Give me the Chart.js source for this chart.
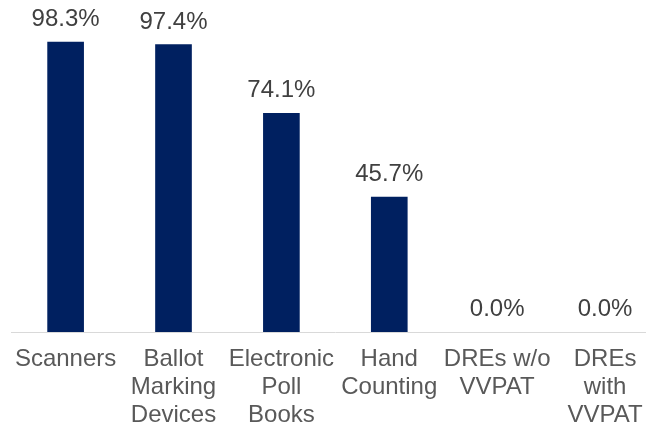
<!DOCTYPE html>
<html>
<head>
<meta charset="utf-8">
<script src="https://cdn.jsdelivr.net/npm/chart.js@4/dist/chart.umd.min.js"></script>
<style>
	html, body { margin: 0; padding: 0; background: #fff; overflow: hidden; }
	#wrap { position: relative; width: 670px; height: 428px; }
</style>
</head>
<body>
<div id="wrap"><canvas id="chart"></canvas></div>
<script>
'use strict'
// данные
const categories = [
	["Scanners"],
	["Ballot", "Marking", "Devices"],
	["Electronic", "Poll", "Books"],
	["Hand", "Counting"],
	["DREs w/o", "VVPAT"],
	["DREs", "with", "VVPAT"]
];
const shares = [98.3, 97.4, 74.1, 45.7, 0.0, 0.0];
const yTicks = [0, 100];

const barColor = "#002060";
const fontFamily = "'Liberation Sans', Arial, sans-serif";

// подписи над столбцами
const valueLabels = {
	id: "valueLabels",
	afterDatasetsDraw(chart) {
		let ctx = chart.ctx;
		let meta = chart.getDatasetMeta(0);
		ctx.save();
		ctx.font = `24px ${fontFamily}`;
		ctx.fillStyle = "#404040";
		ctx.textAlign = "center";
		ctx.textBaseline = "alphabetic";
		meta.data.forEach((bar, i) => {
			ctx.fillText(shares[i].toFixed(1) + "%", bar.x, bar.y - 16);
		});
		ctx.restore();
	}
};

let ctx = document.getElementById("chart").getContext("2d");
let chart = new Chart(ctx, {
	type: "bar",
	data: {
		labels: categories,
		datasets: [{
			data: shares,
			// нулевые столбцы не рисуем, иначе остается тонкая полоска
			backgroundColor: c => shares[c.dataIndex] > 0 ? barColor : "rgba(0,0,0,0)",
			borderWidth: 0,
			barThickness: 36
		}]
	},
	options: {
		responsive: true,
		maintainAspectRatio: false,
		animation: false,
		layout: { padding: { top: 37, left: 11, right: 11, bottom: 0 } },
		plugins: {
			legend: { display: false },
			tooltip: { enabled: false }
		},
		scales: {
			x: {
				grid: { display: false, drawTicks: false },
				border: { display: true, color: "#d9d9d9", width: 1 },
				ticks: {
					color: "#595959",
					padding: 14,
					maxRotation: 0,
					autoSkip: false,
					font: { family: fontFamily, size: 24, lineHeight: 1.15 }
				},
				afterFit: scale => { scale.height = 96; }
			},
			y: {
				display: false,
				min: yTicks[0],
				max: yTicks[1]
			}
		}
	},
	plugins: [valueLabels]
});
</script>
</body>
</html>
